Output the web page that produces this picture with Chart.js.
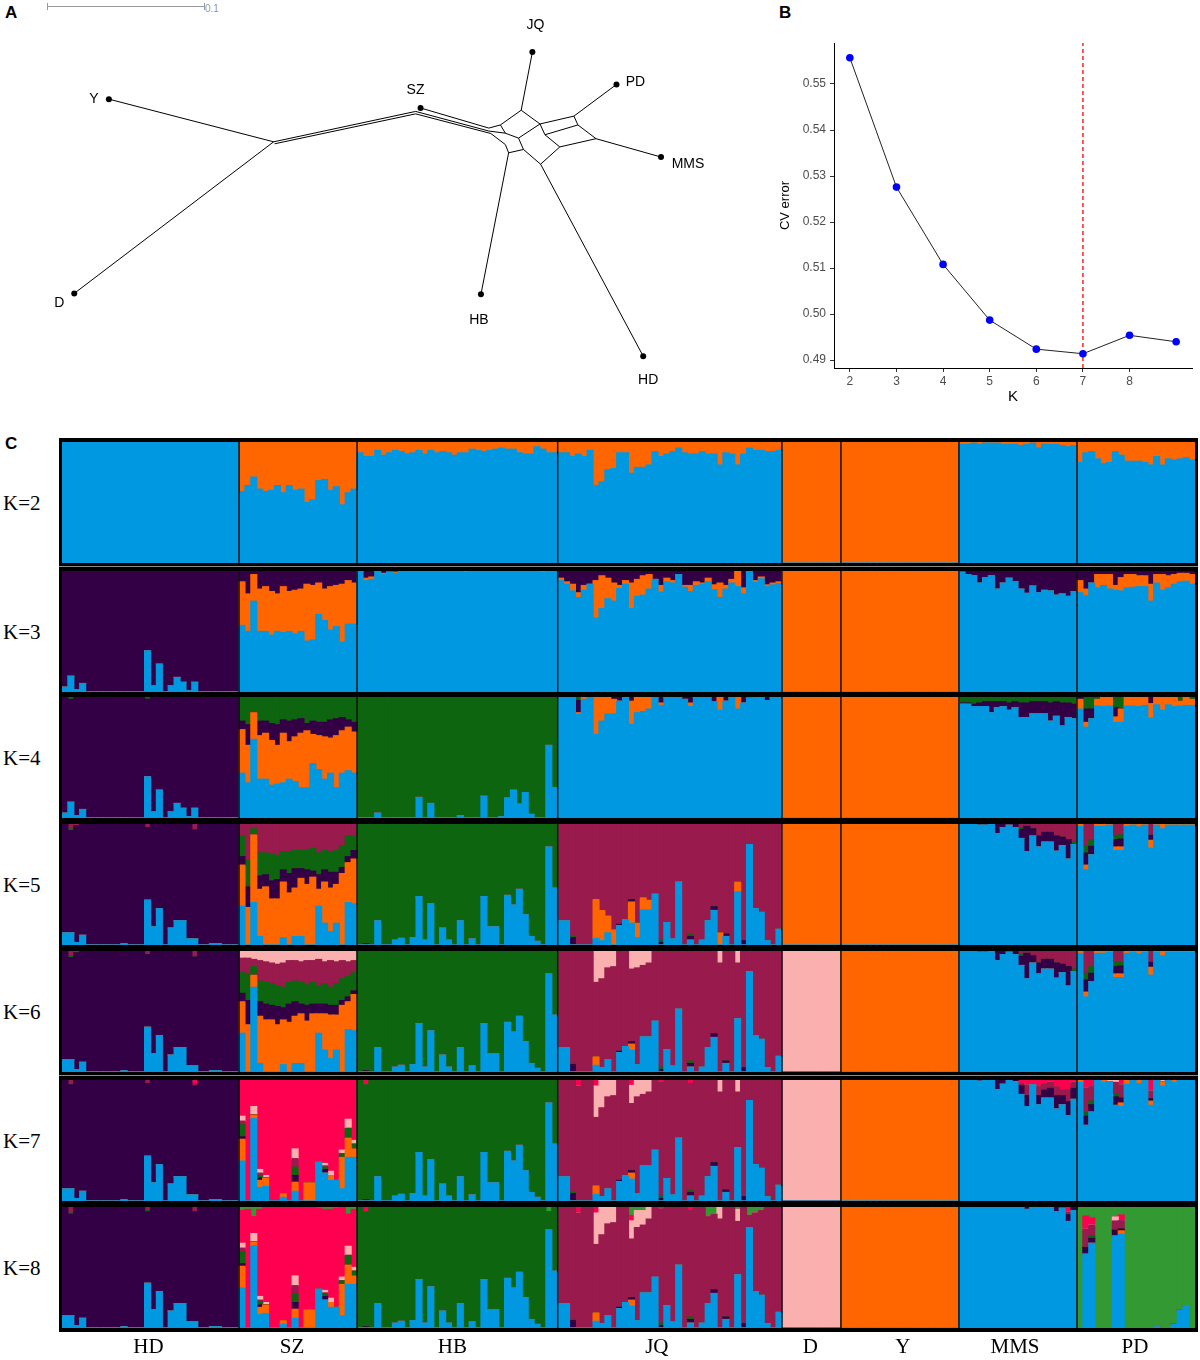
<!DOCTYPE html>
<html>
<head>
<meta charset="utf-8">
<script src="https://cdn.jsdelivr.net/npm/chart.js@4.4.0/dist/chart.umd.min.js"></script>
<style>
  body { margin: 0; width: 1200px; height: 1360px; position: relative; overflow: hidden; background: #fff;
         font-family: "Liberation Sans", Arial, sans-serif; }
  canvas { position: absolute; }
  .tag { position: absolute; font-weight: bold; font-size: 17px; }
  .klab { position: absolute; left: 3px; font-family: "Liberation Serif", serif; font-size: 21px; line-height: 21px; }
  #frame { position: absolute; left: 59px; top: 438px; width: 1139px; height: 894px; background: #000; }
  .gap { position: absolute; left: 59px; width: 1139px; height: 1px; background: #8a8a8a; }
  #bar01 { position: absolute; left: 47px; top: 6px; width: 157px; height: 0; border-top: 1px solid #999; }
  .btick { position: absolute; top: 3px; width: 0; height: 7px; border-left: 1px solid #999; }
</style>
</head>
<body>
<div class="tag" style="left:5px;top:3px">A</div>
<div class="tag" style="left:779px;top:3px">B</div>
<div class="tag" style="left:5px;top:434px">C</div>
<div id="bar01"></div>
<div class="btick" style="left:47px"></div>
<div class="btick" style="left:204px"></div>
<div style="position:absolute;left:205px;top:3px;font-size:10px;color:#999">0.1</div>
<canvas id="net" width="760" height="420" style="left:0;top:0"></canvas>
<canvas id="cv" width="440" height="420" style="left:760px;top:0"></canvas>
<div id="frame"></div>
<div class="gap" style="top:566px"></div>
<div class="gap" style="top:1075px"></div>
<div id="rows"></div>

<script>
// ---------- panel A: split network ----------
const tipNames = ["Y", "D", "SZ", "JQ", "PD", "MMS", "HB", "HD"];
const tipX = [106, 71, 421, 534, 619, 664, 482, 646];
const tipY = [97, 295, 106, 49, 82, 156, 296, 359];
// internal split vertices
const splitX = [272.5, 273.5, 416, 416, 490, 490, 492, 501.7, 522.7, 541.7, 576, 580, 598.3, 561.7, 542.3, 510, 506.7, 520, 525, 546.7, 506.7];
const splitY = [140.5, 142.5, 109.5, 112, 126.5, 129.5, 132, 123.3, 108.3, 122.3, 114.3, 123.3, 137.3, 145.7, 163.3, 151.7, 143.3, 136.7, 148.3, 133.3, 131.7];
// edges: "t" = tip index, "s" = split vertex index
const netEdges = [
  ["t0", "s0"], ["t1", "s0"], ["s0", "s2"], ["s1", "s3"], ["t2", "s4"], ["s2", "s5"], ["s3", "s6"],
  ["s4", "s7"], ["s5", "s20"], ["s6", "s16"], ["s7", "s8"], ["s8", "s9"], ["s20", "s17"], ["s17", "s9"],
  ["s9", "s10"], ["s9", "s19"], ["s19", "s11"], ["s10", "s11"], ["s11", "s12"], ["s19", "s13"], ["s13", "s12"],
  ["s17", "s18"], ["s18", "s14"], ["s14", "s13"], ["s16", "s15"], ["s15", "s18"], ["s7", "s20"],
  ["s8", "t3"], ["s10", "t4"], ["s12", "t5"], ["s15", "t6"], ["s14", "t7"]
];

// ---------- panel B: CV error ----------
const cvK = [2, 3, 4, 5, 6, 7, 8, 9];
const cvError = [0.5557, 0.5276, 0.5108, 0.4987, 0.4924, 0.4914, 0.4954, 0.4940];
const cvTicksX = [2, 3, 4, 5, 6, 7, 8];
const cvTicksY = [0.49, 0.50, 0.51, 0.52, 0.53, 0.54, 0.55];
const bestK = 7;

// ---------- panel C: admixture proportions ----------
const popNames = ["HD", "SZ", "HB", "JQ", "D", "Y", "MMS", "PD"];
const popSizes = [30, 20, 34, 38, 10, 20, 20, 20];
const kLabels = ["K=2", "K=3", "K=4", "K=5", "K=6", "K=7", "K=8"];

// HD
const hdBlue34 = {0: 0.04, 1: 0.13, 2: 0.02, 3: 0.07, 14: 0.34, 15: 0.05, 16: 0.23, 18: 0.05, 19: 0.12, 20: 0.08, 21: 0.01, 22: 0.08};
const hdGreen4 = {1: 0.02, 14: 0.02};
const hdBlue58 = {0: 0.10, 1: 0.10, 2: 0.02, 3: 0.08, 10: 0.01, 14: 0.37, 15: 0.15, 16: 0.30, 18: 0.14, 19: 0.20, 20: 0.20, 21: 0.05, 22: 0.05, 25: 0.01, 26: 0.01};
const hdMaroon58 = {1: 0.04, 2: 0.015, 14: 0.03, 22: 0.05};
const hdGreen58 = {1: 0.015};
const hdMaroon7 = {1: 0.04, 14: 0.03, 22: 0.02};
const hdRed7 = {22: 0.03};
const hdMaroon8 = {1: 0.05, 14: 0.03, 22: 0.04};
const hdGreen8 = {1: 0.01, 14: 0.01};

// SZ
const szBlue2 = [0.59, 0.64, 0.71, 0.61, 0.59, 0.60, 0.64, 0.58, 0.64, 0.60, 0.61, 0.50, 0.52, 0.68, 0.69, 0.60, 0.63, 0.48, 0.58, 0.61];
const szBlue3 = [0.55, 0.50, 0.75, 0.50, 0.50, 0.47, 0.50, 0.49, 0.50, 0.48, 0.50, 0.42, 0.43, 0.64, 0.59, 0.51, 0.54, 0.41, 0.56, 0.56];
const szOrange3 = [0.36, 0.31, 0.22, 0.35, 0.37, 0.36, 0.31, 0.38, 0.33, 0.36, 0.35, 0.47, 0.45, 0.26, 0.26, 0.36, 0.34, 0.48, 0.36, 0.34];
const szBlue4 = [0.37, 0.29, 0.65, 0.32, 0.32, 0.27, 0.28, 0.29, 0.32, 0.30, 0.25, 0.25, 0.45, 0.40, 0.32, 0.37, 0.25, 0.37, 0.39, 0.37];
const szPurple4 = [0.07, 0.17, 0, 0.12, 0.10, 0.14, 0.17, 0.11, 0.17, 0.14, 0.12, 0.06, 0.11, 0.11, 0.12, 0.15, 0.14, 0.11, 0.06, 0.08];
const szGreen4 = [0.20, 0.23, 0.13, 0.20, 0.20, 0.22, 0.23, 0.19, 0.20, 0.19, 0.18, 0.22, 0.20, 0.21, 0.21, 0.19, 0.18, 0.17, 0.19, 0.21];
const szBlue5 = [0.32, 0, 0.35, 0.07, 0, 0, 0, 0.06, 0, 0.07, 0.07, 0, 0, 0.32, 0.18, 0.11, 0.18, 0, 0.35, 0.34];
const szPurple5 = [0.07, 0.17, 0, 0.11, 0.10, 0.15, 0.16, 0.10, 0.16, 0.16, 0.08, 0.12, 0.05, 0.12, 0.10, 0.13, 0.10, 0.05, 0.05, 0.07];
const szGreen5 = [0.17, 0.22, 0.05, 0.19, 0.18, 0.22, 0.20, 0.15, 0.18, 0.15, 0.15, 0.16, 0.19, 0.18, 0.16, 0.17, 0.18, 0.18, 0.17, 0.12];
const szMaroon5 = [0.10, 0.30, 0.04, 0.24, 0.24, 0.25, 0.26, 0.23, 0.23, 0.22, 0.22, 0.22, 0.20, 0.24, 0.22, 0.23, 0.22, 0.18, 0.10, 0.10];
const szBlue6 = [0.32, 0, 0.70, 0.07, 0, 0, 0, 0.06, 0, 0.07, 0.07, 0, 0, 0.32, 0.18, 0.11, 0.18, 0, 0.35, 0.34];
const szPurple6 = [0.07, 0.20, 0, 0.12, 0.13, 0.12, 0.15, 0.10, 0.15, 0.12, 0.08, 0.13, 0.08, 0.08, 0.08, 0.08, 0.08, 0.04, 0.04, 0.03];
const szGreen6 = [0.17, 0.22, 0.07, 0.17, 0.18, 0.18, 0.17, 0.17, 0.18, 0.17, 0.18, 0.17, 0.18, 0.15, 0.17, 0.15, 0.18, 0.18, 0.17, 0.15];
const szMaroon6 = [0.12, 0.13, 0.06, 0.17, 0.17, 0.17, 0.18, 0.20, 0.18, 0.17, 0.17, 0.20, 0.18, 0.22, 0.18, 0.22, 0.18, 0.15, 0.12, 0.10];
const szPink6 = [0.06, 0.06, 0.07, 0.08, 0.09, 0.10, 0.11, 0.10, 0.08, 0.08, 0.09, 0.08, 0.08, 0.07, 0.09, 0.08, 0.09, 0.08, 0.09, 0.08];
const szBlue7 = [0.33, 0, 0.68, 0.11, 0.12, 0, 0, 0.03, 0, 0.08, 0, 0, 0, 0.32, 0.23, 0.17, 0.17, 0.10, 0.36, 0.36];
const szOrange7 = [0.18, 0, 0.03, 0.06, 0.07, 0, 0, 0.03, 0, 0.075, 0, 0.15, 0.15, 0, 0, 0.04, 0, 0.26, 0.16, 0.07];
const szPurple7 = {0: 0.02, 3: 0.02, 9: 0.055, 14: 0.03};
const szGreen7 = {0: 0.10, 3: 0.02, 9: 0.07, 14: 0.02, 17: 0.03, 18: 0.08, 19: 0.04};
const szMaroon7 = {0: 0.03, 3: 0.02, 9: 0.07, 14: 0.01};
const szPink7 = {0: 0.04, 2: 0.07, 3: 0.03, 4: 0.02, 9: 0.08, 14: 0.02, 15: 0.035, 17: 0.03, 18: 0.075, 19: 0.03};
const szLime8 = {0: 0.03, 1: 0.02, 2: 0.08, 3: 0.02, 13: 0.01, 14: 0.02, 15: 0.02, 16: 0.01, 18: 0.06, 19: 0.02};

// HB
const hbOrange2 = [0.09, 0.12, 0.12, 0.07, 0.11, 0.09, 0.07, 0.08, 0.10, 0.09, 0.07, 0.10, 0.07, 0.09, 0.08, 0.09, 0.11,
                   0.09, 0.09, 0.06, 0.07, 0.08, 0.07, 0.06, 0.05, 0.06, 0.06, 0.09, 0.10, 0.10, 0.04, 0.06, 0.09, 0.09];
const hbPurple3 = {1: 0.06, 2: 0.05, 4: 0.02, 5: 0.01, 6: 0.01};
const hbOrange3 = {1: 0.02, 2: 0.02, 4: 0.01, 6: 0.01, 18: 0.01, 31: 0.01};
const hbBlue4 = {3: 0.04, 10: 0.17, 12: 0.12, 17: 0.02, 21: 0.18, 24: 0.01, 25: 0.165, 26: 0.23, 27: 0.115, 28: 0.21, 29: 0.03, 32: 0.60, 33: 0.25};
const hbBlue58 = {3: 0.20, 6: 0.04, 7: 0.055, 9: 0.06, 10: 0.40, 11: 0.04, 12: 0.34, 14: 0.14, 15: 0.04, 17: 0.20, 19: 0.05, 21: 0.40,
                  22: 0.15, 23: 0.15, 25: 0.41, 26: 0.33, 27: 0.46, 28: 0.25, 29: 0.07, 30: 0.03, 32: 0.81, 33: 0.47};
const hbPurple58 = {1: 0.01};
const hbRed78 = {1: 0.04};
const hbLime8 = {32: 0.04};

// JQ
const jqOrange2 = [0.09, 0.09, 0.12, 0.10, 0.12, 0.07, 0.36, 0.33, 0.23, 0.22, 0.09, 0.09, 0.26, 0.21, 0.21, 0.19, 0.08, 0.12, 0.10,
                   0.08, 0.05, 0.09, 0.10, 0.10, 0.08, 0.10, 0.10, 0.19, 0.09, 0.10, 0.19, 0.10, 0.05, 0.07, 0.07, 0.08, 0.08, 0.07];
const jqPurple3 = [0.06, 0.09, 0.11, 0.18, 0.12, 0.11, 0.08, 0.04, 0.06, 0.10, 0.12, 0.08, 0.10, 0.07, 0.04, 0.03, 0.07, 0.12, 0.06,
                   0.08, 0.03, 0.12, 0.12, 0.09, 0.10, 0.06, 0.115, 0.10, 0.12, 0.07, 0, 0.14, 0, 0.08, 0.05, 0.115, 0.10, 0.09];
const jqOrange3 = [0.02, 0.02, 0.055, 0.04, 0.04, 0, 0.31, 0.27, 0.17, 0.15, 0.025, 0.03, 0.21, 0.14, 0.16, 0.12, 0, 0.055, 0.03,
                   0.02, 0, 0.015, 0.05, 0.03, 0.01, 0.03, 0.04, 0.12, 0.03, 0.03, 0.13, 0.05, 0, 0.015, 0.015, 0.015, 0.015, 0.015];
const jqOrange4 = {3: 0.015, 4: 0.02, 6: 0.31, 7: 0.20, 8: 0.14, 9: 0.12, 12: 0.19, 13: 0.13, 14: 0.12, 15: 0.10, 17: 0.02, 22: 0.03, 27: 0.11, 30: 0.10};
const jqPurple4 = {3: 0.10, 9: 0.02, 10: 0.035, 12: 0.035, 17: 0.05, 21: 0.02, 22: 0.05, 26: 0.04, 28: 0.035, 31: 0.05, 35: 0.03};
const jqGreen4 = {3: 0.03, 32: 0.01};
const jqBlue58 = [0.20, 0.20, 0, 0, 0, 0, 0.055, 0.035, 0.10, 0, 0.16, 0.21, 0.18, 0.06, 0.29, 0.29, 0.42, 0, 0.185,
                  0.05, 0.52, 0, 0.04, 0, 0.04, 0.20, 0.285, 0, 0.07, 0, 0.44, 0, 0.83, 0.30, 0.27, 0.035, 0, 0.13];
const jqOrange5 = {6: 0.32, 7: 0.25, 8: 0.14, 9: 0.125, 12: 0.175, 13: 0.12, 14: 0.10, 15: 0.08, 27: 0.10, 30: 0.08};
const jqPurple58 = {2: 0.06, 10: 0.01, 12: 0.02, 17: 0.02, 22: 0.03, 26: 0.03, 28: 0.02, 31: 0.035};
const jqGreen58 = {2: 0.01, 17: 0.02, 22: 0.02};
const jqPink68 = {6: 0.26, 7: 0.23, 8: 0.14, 9: 0.13, 12: 0.15, 13: 0.14, 14: 0.12, 15: 0.10, 27: 0.10, 30: 0.10};
const jqOrange68 = {6: 0.07, 12: 0.05};
const jqRed78 = {3: 0.05, 6: 0.05, 12: 0.045, 17: 0.015, 22: 0.03};
const jqLime8 = {12: 0.07, 13: 0.03, 14: 0.03, 25: 0.08, 26: 0.06, 30: 0.02, 32: 0.07, 33: 0.05, 34: 0.03};

// MMS
const mmsOrange2 = [0.02, 0.02, 0.01, 0.02, 0.01, 0.01, 0.01, 0.02, 0.02, 0.02, 0.03, 0.02, 0.01, 0.05, 0.02, 0.02, 0.02, 0.03, 0.04, 0.03];
const mmsPurple3 = [0.01, 0.03, 0.04, 0.10, 0.055, 0.04, 0.15, 0.10, 0.06, 0.09, 0.15, 0.185, 0.125, 0.18, 0.16, 0.165, 0.20, 0.19, 0.21, 0.17];
const mmsGreen4 = [0.05, 0.05, 0.06, 0.05, 0.04, 0.04, 0.04, 0.04, 0.05, 0.04, 0.05, 0.05, 0.04, 0.04, 0.04, 0.05, 0.04, 0.05, 0.05, 0.06];
const mmsPurple4 = [0.01, 0.01, 0.02, 0.03, 0.04, 0.09, 0.05, 0.04, 0.06, 0.05, 0.12, 0.12, 0.10, 0.10, 0.10, 0.15, 0.12, 0.19, 0.12, 0.12];
const mmsMaroon56 = {10: 0.03, 11: 0.02, 12: 0.04, 13: 0.10, 14: 0.07, 15: 0.07, 16: 0.10, 17: 0.11, 18: 0.13, 19: 0.15};
const mmsPurple56 = {3: 0.01, 4: 0.01, 6: 0.08, 7: 0.03, 8: 0.01, 9: 0.03, 10: 0.075, 11: 0.21, 12: 0.06, 13: 0.09, 14: 0.08,
                     15: 0.08, 16: 0.125, 17: 0.07, 18: 0.16};
const mmsGreen56 = {10: 0.015, 19: 0.02};
const mmsRed7 = {10: 0.03, 11: 0.04, 12: 0.04, 13: 0.055, 14: 0.03, 15: 0.02, 16: 0.055, 17: 0.08, 18: 0.08, 19: 0.02};
const mmsMaroon7 = {10: 0.02, 11: 0.09, 13: 0.075, 14: 0.055, 15: 0.05, 16: 0.075, 17: 0.05, 18: 0.10, 19: 0.05};
const mmsPurple7 = {3: 0.01, 6: 0.08, 7: 0.035, 9: 0.015, 10: 0.07, 11: 0.09, 13: 0.075, 14: 0.065, 15: 0.08, 16: 0.11,
                    17: 0.075, 18: 0.115, 19: 0.09};
const mmsPurple8 = {11: 0.02, 16: 0.04, 17: 0.01, 18: 0.055, 19: 0.03};
const mmsMaroon8 = {18: 0.02};
const mmsRed8 = {18: 0.045};

// PD
const pdOrange2 = [0.17, 0.09, 0.08, 0.14, 0.18, 0.17, 0.08, 0.11, 0.16, 0.16, 0.16, 0.17, 0.19, 0.12, 0.19, 0.14, 0.15, 0.14, 0.13, 0.15];
const pdPurple3 = [0.08, 0.15, 0.10, 0.03, 0.03, 0.03, 0.12, 0.055, 0.03, 0.03, 0.04, 0.04, 0.11, 0.03, 0.03, 0.04, 0.03, 0.02, 0.02, 0.03];
const pdOrange3 = [0.10, 0.055, 0, 0.11, 0.09, 0.12, 0.04, 0.11, 0.11, 0.105, 0.09, 0.09, 0.14, 0.07, 0.13, 0.10, 0.08, 0.07, 0.065, 0.08];
const pdGreen4 = {1: 0.10, 2: 0.10, 3: 0.02, 6: 0.09, 7: 0.10, 17: 0.035, 19: 0.02};
const pdPurple4 = {0: 0.02, 1: 0.11, 2: 0.08, 6: 0.075, 12: 0.055};
const pdOrange4 = [0.08, 0.04, 0, 0.055, 0.08, 0.075, 0.045, 0.11, 0.075, 0.075, 0.08, 0.07, 0.12, 0.065, 0.11, 0.065, 0.08, 0.04, 0.07, 0.05];
const pdMaroon56 = {1: 0.185, 2: 0.13, 6: 0.095, 7: 0.09, 12: 0.095};
const pdGreen56 = {1: 0.055, 2: 0.055, 6: 0.035, 7: 0.035};
const pdPurple56 = {1: 0.10, 2: 0.07, 6: 0.06, 7: 0.065, 12: 0.04};
const pdOrange56 = [0.02, 0.04, 0, 0.02, 0.02, 0.01, 0.03, 0.03, 0.02, 0.01, 0.025, 0.01, 0.065, 0.01, 0.04, 0.01, 0.01, 0.01, 0.01, 0.01];
const pdRed7 = {1: 0.07, 2: 0.055, 7: 0.04, 12: 0.09};
const pdMaroon7 = {1: 0.20, 2: 0.12, 6: 0.10, 7: 0.11, 12: 0.065};
const pdGreen7 = {1: 0.03, 2: 0.03, 6: 0.02};
const pdPurple7 = {1: 0.075, 2: 0.06, 6: 0.07, 7: 0.04, 12: 0.02};
const pdOrange7 = {0: 0.02, 4: 0.02, 7: 0.03, 8: 0.035, 10: 0.03, 12: 0.035, 14: 0.035, 16: 0.02};
const pdPink7 = {5: 0.015, 6: 0.02, 14: 0.015};
const pdBlue8 = {1: 0.61, 2: 0.70, 6: 0.76, 7: 0.775, 13: 0.01, 16: 0.03, 17: 0.145, 18: 0.185};
const pdRed8 = {1: 0.11, 2: 0.06, 7: 0.047};
const pdMaroon8 = {1: 0.15, 2: 0.09, 6: 0.077, 7: 0.07};
const pdGreen8 = {2: 0.02};
const pdPurple8 = {1: 0.055, 2: 0.04, 6: 0.047, 7: 0.014};
const pdOrange8 = {7: 0.028};
const pdPink8 = {6: 0.033};

// which component fills the rest of each population, per K
const rowSpecs = [
  [["blue", {}], ["orange", {blue: szBlue2}], ["blue", {orange: hbOrange2}], ["blue", {orange: jqOrange2}],
   ["orange", {}], ["orange", {}], ["blue", {orange: mmsOrange2}], ["blue", {orange: pdOrange2}]],
  [["purple", {blue: hdBlue34}], ["purple", {blue: szBlue3, orange: szOrange3}], ["blue", {purple: hbPurple3, orange: hbOrange3}],
   ["blue", {purple: jqPurple3, orange: jqOrange3}], ["orange", {}], ["orange", {}], ["blue", {purple: mmsPurple3}],
   ["blue", {purple: pdPurple3, orange: pdOrange3}]],
  [["purple", {blue: hdBlue34, green: hdGreen4}], ["orange", {blue: szBlue4, purple: szPurple4, green: szGreen4}], ["green", {blue: hbBlue4}],
   ["blue", {orange: jqOrange4, purple: jqPurple4, green: jqGreen4}], ["orange", {}], ["orange", {}],
   ["blue", {purple: mmsPurple4, green: mmsGreen4}], ["blue", {orange: pdOrange4, purple: pdPurple4, green: pdGreen4}]],
  [["purple", {blue: hdBlue58, green: hdGreen58, maroon: hdMaroon58}],
   ["orange", {blue: szBlue5, purple: szPurple5, green: szGreen5, maroon: szMaroon5}],
   ["green", {blue: hbBlue58, purple: hbPurple58}],
   ["maroon", {blue: jqBlue58, orange: jqOrange5, purple: jqPurple58, green: jqGreen58}], ["orange", {}], ["orange", {}],
   ["blue", {maroon: mmsMaroon56, purple: mmsPurple56, green: mmsGreen56}],
   ["blue", {maroon: pdMaroon56, green: pdGreen56, purple: pdPurple56, orange: pdOrange56}]],
  [["purple", {blue: hdBlue58, green: hdGreen58, maroon: hdMaroon58}],
   ["orange", {blue: szBlue6, purple: szPurple6, green: szGreen6, maroon: szMaroon6, pink: szPink6}],
   ["green", {blue: hbBlue58, purple: hbPurple58}],
   ["maroon", {blue: jqBlue58, orange: jqOrange68, purple: jqPurple58, green: jqGreen58, pink: jqPink68}], ["pink", {}], ["orange", {}],
   ["blue", {maroon: mmsMaroon56, purple: mmsPurple56, green: mmsGreen56}],
   ["blue", {maroon: pdMaroon56, green: pdGreen56, purple: pdPurple56, orange: pdOrange56}]],
  [["purple", {blue: hdBlue58, maroon: hdMaroon7, red: hdRed7}],
   ["red", {blue: szBlue7, orange: szOrange7, purple: szPurple7, green: szGreen7, maroon: szMaroon7, pink: szPink7}],
   ["green", {blue: hbBlue58, purple: hbPurple58, red: hbRed78}],
   ["maroon", {blue: jqBlue58, orange: jqOrange68, purple: jqPurple58, green: jqGreen58, pink: jqPink68, red: jqRed78}],
   ["pink", {}], ["orange", {}],
   ["blue", {maroon: mmsMaroon7, purple: mmsPurple7, red: mmsRed7}],
   ["blue", {maroon: pdMaroon7, green: pdGreen7, purple: pdPurple7, orange: pdOrange7, red: pdRed7, pink: pdPink7}]],
  [["purple", {blue: hdBlue58, maroon: hdMaroon8, green: hdGreen8}],
   ["red", {blue: szBlue7, orange: szOrange7, purple: szPurple7, green: szGreen7, maroon: szMaroon7, pink: szPink7, lime: szLime8}],
   ["green", {blue: hbBlue58, purple: hbPurple58, red: hbRed78, lime: hbLime8}],
   ["maroon", {blue: jqBlue58, orange: jqOrange68, purple: jqPurple58, green: jqGreen58, pink: jqPink68, red: jqRed78, lime: jqLime8}],
   ["pink", {}], ["orange", {}],
   ["blue", {purple: mmsPurple8, maroon: mmsMaroon8, red: mmsRed8}],
   ["lime", {blue: pdBlue8, red: pdRed8, maroon: pdMaroon8, green: pdGreen8, purple: pdPurple8, orange: pdOrange8, pink: pdPink8}]]
];

// ---------- styling ----------
const componentOrder = ["blue", "orange", "purple", "green", "maroon", "pink", "red", "lime"];
const componentColors = {
  blue: "#0099e1", orange: "#ff6600", purple: "#330046", green: "#0e650f",
  maroon: "#991a4c", pink: "#fbb0b0", red: "#ff0050", lime: "#339933"
};
const rowTops = [442, 571, 697, 824, 951, 1080, 1207];
const rowHeight = 121;
const labelOffsets = [[-15, 0], [-15, 10], [-5, -18], [3, -27], [19, -2], [27, 7], [-2, 26], [5, 24]];
const popLabelNudge = [-2, -6, -5, -13, -1, 3, -3, -1];

Chart.defaults.font.family = '"Liberation Sans", Arial, sans-serif';
Chart.defaults.devicePixelRatio = 1;

// ---------- A ----------
const pt = (ref) => {
  const i = +ref.slice(1);
  return ref[0] === "t" ? {x: tipX[i], y: tipY[i]} : {x: splitX[i], y: splitY[i]};
};
const netSets = netEdges.map(([a, b]) => ({
  data: [pt(a), pt(b)], showLine: true, borderColor: "#000", borderWidth: 1, pointRadius: 0
}));
netSets.push({
  data: tipNames.map((n, i) => ({x: tipX[i], y: tipY[i]})),
  pointRadius: 3, backgroundColor: "#000", borderWidth: 0
});

const tipLabels = {
  id: "tipLabels",
  afterDatasetsDraw(chart) {
    const {ctx, scales: {x, y}} = chart;
    ctx.save();
    ctx.font = '14px "Liberation Sans", Arial, sans-serif';
    ctx.fillStyle = "#000";
    ctx.textAlign = "center";
    ctx.textBaseline = "middle";
    tipNames.forEach((n, i) => {
      ctx.fillText(n, x.getPixelForValue(tipX[i]) + labelOffsets[i][0], y.getPixelForValue(tipY[i]) + labelOffsets[i][1]);
    });
    ctx.restore();
  }
};

new Chart(document.getElementById("net"), {
  type: "scatter",
  data: {datasets: netSets},
  options: {
    responsive: false, animation: false, events: [],
    layout: {padding: 0},
    plugins: {legend: {display: false}, tooltip: {enabled: false}},
    scales: {
      x: {type: "linear", display: false, min: 0, max: 760},
      y: {type: "linear", display: false, min: 0, max: 420, reverse: true}
    }
  },
  plugins: [tipLabels]
});

// ---------- B ----------
const yMin = 0.4883, yMax = 0.5589;
new Chart(document.getElementById("cv"), {
  type: "scatter",
  data: {
    datasets: [
      {
        data: cvK.map((k, i) => ({x: k, y: cvError[i]})),
        showLine: true, borderColor: "#222", borderWidth: 1,
        pointRadius: 3.8, pointBackgroundColor: "#0000ff", pointBorderColor: "#0000ff", pointBorderWidth: 0
      },
      {
        data: [{x: bestK, y: yMin}, {x: bestK, y: yMax}],
        showLine: true, borderColor: "#ff0000", borderWidth: 1.3, borderDash: [4, 3], pointRadius: 0
      }
    ]
  },
  options: {
    responsive: false, animation: false, events: [],
    layout: {padding: {top: 43, right: 8, left: 18, bottom: 14}},
    plugins: {legend: {display: false}, tooltip: {enabled: false}},
    scales: {
      x: {
        type: "linear", min: 1.66, max: 9.34,
        afterBuildTicks: (s) => { s.ticks = cvTicksX.map(v => ({value: v})); },
        afterFit: (s) => { s.height = 38; },
        grid: {drawOnChartArea: false, tickLength: 4, color: "#333"},
        border: {color: "#000", width: 1},
        ticks: {color: "#4d4d4d", font: {size: 12}, padding: 2},
        title: {display: true, text: "K", color: "#000", font: {size: 15}, padding: {top: 0, bottom: 0}}
      },
      y: {
        type: "linear", min: yMin, max: yMax,
        afterBuildTicks: (s) => { s.ticks = cvTicksY.map(v => ({value: v})); },
        afterFit: (s) => { s.width = 56; },
        grid: {drawOnChartArea: false, tickLength: 4, color: "#333"},
        border: {color: "#000", width: 1},
        ticks: {color: "#4d4d4d", font: {size: 12}, padding: 4, callback: (v) => v.toFixed(2)},
        title: {display: true, text: "CV error", color: "#000", font: {size: 13}, padding: {top: 0, bottom: 0}}
      }
    }
  }
});

// ---------- C ----------
const individuals = [];
popSizes.forEach((n, p) => { for (let i = 0; i < n; i++) individuals.push(popNames[p] + (i + 1)); });
const boundaries = [];
popSizes.reduce((acc, n) => { boundaries.push(acc + n); return acc + n; }, 0);
boundaries.pop();

function buildDatasets(spec) {
  const cols = {};
  componentOrder.forEach(c => { cols[c] = []; });
  spec.forEach(([main, parts], p) => {
    for (let i = 0; i < popSizes[p]; i++) {
      let used = 0;
      componentOrder.forEach(c => {
        if (c === main) return;
        const v = parts[c] && parts[c][i] ? parts[c][i] : 0;
        cols[c].push(v);
        used += v;
      });
      cols[main].push(Math.max(0, 1 - used));
    }
  });
  return componentOrder
    .filter(c => cols[c].some(v => v > 0))
    .map(c => ({label: c, data: cols[c], backgroundColor: componentColors[c], borderWidth: 0, inflateAmount: 0.6}));
}

const popLines = {
  id: "popLines",
  afterDatasetsDraw(chart) {
    const {ctx, chartArea, scales: {x}} = chart;
    ctx.save();
    ctx.strokeStyle = "#111";
    ctx.lineWidth = 1.5;
    boundaries.forEach(b => {
      const px = (x.getPixelForValue(b - 1) + x.getPixelForValue(b)) / 2;
      ctx.beginPath();
      ctx.moveTo(px, chartArea.top);
      ctx.lineTo(px, chartArea.bottom);
      ctx.stroke();
    });
    ctx.restore();
  }
};

const popLabels = {
  id: "popLabels",
  afterDraw(chart) {
    const {ctx, chartArea, scales: {x}} = chart;
    ctx.save();
    ctx.font = '21px "Liberation Serif", serif';
    ctx.fillStyle = "#000";
    ctx.textAlign = "center";
    ctx.textBaseline = "middle";
    let start = 0;
    popNames.forEach((n, p) => {
      const end = start + popSizes[p] - 1;
      const cx = (x.getPixelForValue(start) + x.getPixelForValue(end)) / 2;
      ctx.fillText(n, cx + popLabelNudge[p], chartArea.bottom + 19);
      start += popSizes[p];
    });
    ctx.restore();
  }
};

const rowsDiv = document.getElementById("rows");
rowSpecs.forEach((spec, r) => {
  const last = r === rowSpecs.length - 1;
  const cv = document.createElement("canvas");
  cv.width = 1133;
  cv.height = rowHeight + (last ? 45 : 0);
  cv.style.left = "62px";
  cv.style.top = rowTops[r] + "px";
  rowsDiv.appendChild(cv);

  const lab = document.createElement("div");
  lab.className = "klab";
  lab.style.top = (rowTops[r] + rowHeight / 2 - 10) + "px";
  lab.textContent = kLabels[r];
  rowsDiv.appendChild(lab);

  new Chart(cv, {
    type: "bar",
    data: {labels: individuals, datasets: buildDatasets(spec)},
    options: {
      responsive: false, animation: false, events: [],
      layout: {padding: {top: 0, left: 0, right: 0, bottom: last ? 45 : 0}},
      plugins: {legend: {display: false}, tooltip: {enabled: false}},
      datasets: {bar: {barPercentage: 1, categoryPercentage: 1}},
      scales: {
        x: {stacked: true, display: false},
        y: {stacked: true, display: false, min: 0, max: 1}
      }
    },
    plugins: last ? [popLines, popLabels] : [popLines]
  });
});
</script>
</body>
</html>
